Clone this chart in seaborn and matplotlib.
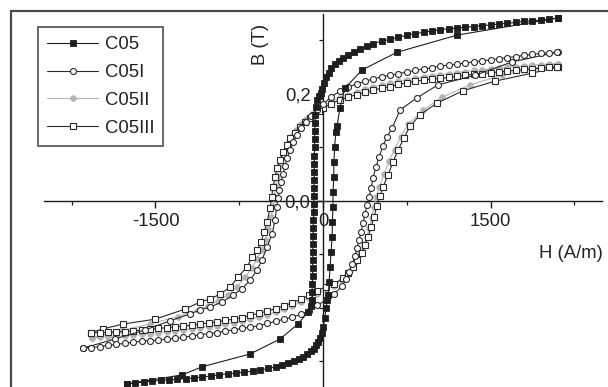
import matplotlib
matplotlib.use('Agg')
import matplotlib.pyplot as plt
import seaborn as sns
from matplotlib.patches import Rectangle

sns.set_theme(style='ticks')
plt.rcParams['font.family'] = ['Liberation Sans', 'DejaVu Sans']

# ---------------- data (H in A/m, B in T) ----------------
# C05 : descending branch (from +Hmax) and ascending branch (from -Hmax)
c05_desc_H = [2100, 2025, 1950, 1875, 1800, 1725, 1650, 1575, 1500, 1425, 1350, 1275, 1200, 1125,
              1050, 975, 900, 825, 750, 675, 600, 525, 450, 390, 330, 275, 225, 180, 140, 105, 75,
              50, 30, 12, -5, -22, -40, -54,
              -66, -70, -72, -74, -75, -76, -77, -78, -79, -80, -81, -82, -83, -84, -86, -88, -89,
              -90, -91, -92, -93, -94, -96, -98, -102, -110,
              -134, -224, -385, -653, -1083, -1262, -1754]
c05_desc_B = [0.342, 0.340, 0.338, 0.337, 0.336, 0.334, 0.332, 0.331, 0.329, 0.328, 0.326, 0.325,
              0.323, 0.322, 0.320, 0.318, 0.315, 0.313, 0.310, 0.306, 0.302, 0.299, 0.294, 0.290,
              0.284, 0.279, 0.273, 0.268, 0.262, 0.256, 0.248, 0.240, 0.231, 0.221, 0.210, 0.202,
              0.196, 0.189,
              0.175, 0.160, 0.145, 0.130, 0.115, 0.100, 0.085, 0.070, 0.055, 0.040, 0.025, 0.010,
              -0.005, -0.020, -0.035, -0.050, -0.065, -0.080, -0.095, -0.110, -0.125, -0.140,
              -0.155, -0.170, -0.185, -0.197,
              -0.207, -0.230, -0.258, -0.286, -0.310, -0.325, -0.342]
c05_asc_H = [-1754, -1680, -1605, -1530, -1455, -1380, -1305, -1230, -1155, -1080, -1005, -930,
             -855, -780, -705, -630, -560, -490, -425, -365, -310, -260, -215, -175, -140, -110,
             -85, -62, -42, -25, -10, 3, 15, 27, 38, 48,
             54, 63, 72, 81, 84, 88, 90, 95, 98, 104, 114, 125,
             152, 197, 349, 662, 1199, 2103]
c05_asc_B = [-0.342, -0.340, -0.338, -0.337, -0.335, -0.334, -0.333, -0.332, -0.331, -0.329,
             -0.327, -0.325, -0.323, -0.322, -0.320, -0.318, -0.316, -0.313, -0.310, -0.307,
             -0.303, -0.299, -0.295, -0.291, -0.286, -0.281, -0.276, -0.270, -0.264, -0.257,
             -0.247, -0.235, -0.219, -0.200, -0.186, -0.175,
             -0.151, -0.123, -0.095, -0.067, -0.039, -0.011, 0.017, 0.045, 0.073, 0.101, 0.129,
             0.140,
             0.174, 0.211, 0.245, 0.278, 0.310, 0.342]

# C05I
c05i_desc_H = [2100, 2025, 1950, 1875, 1800, 1725, 1650, 1575, 1500, 1425, 1350, 1275, 1200, 1125,
               1050, 975, 900, 825, 750, 675, 600, 525, 450, 375, 300, 225, 150, 75, 0,
               -54, -107, -152, -197, -233, -269, -295, -322, -340, -358, -376, -390, -403, -416,
               -430, -456, -501, -546, -591, -653, -725, -806, -904, -1011, -1101,
               -1190, -1369, -1593, -1862, -2148]
c05i_desc_B = [0.278, 0.277, 0.276, 0.274, 0.272, 0.270, 0.268, 0.266, 0.264, 0.262, 0.260,
               0.258, 0.256, 0.254, 0.252, 0.249, 0.247, 0.244, 0.241, 0.238, 0.235, 0.232,
               0.228, 0.224, 0.219, 0.213, 0.205, 0.195, 0.181,
               0.170, 0.159, 0.148, 0.136, 0.123, 0.110, 0.095, 0.080, 0.065, 0.050, 0.036,
               0.021, 0.006, -0.012, -0.036, -0.062, -0.086, -0.110, -0.129, -0.148, -0.164,
               -0.176, -0.189, -0.198, -0.204,
               -0.211, -0.224, -0.241, -0.258, -0.275]
c05i_asc_H = [-2148, -2075, -2000, -1925, -1850, -1775, -1700, -1625, -1550, -1475, -1400, -1325,
              -1250, -1175, -1100, -1025, -950, -875, -800, -725, -650, -575, -500, -425, -350,
              -275, -200, -125, -50, 25, 100,
              170, 206, 233, 260, 286, 304, 322, 340, 358, 376, 394, 412, 430, 448, 474, 501,
              537, 573, 618,
              689, 841, 1029, 1360, 1692, 2094]
c05i_asc_B = [-0.275, -0.274, -0.272, -0.270, -0.268, -0.266, -0.264, -0.262, -0.261, -0.260,
              -0.258, -0.257, -0.255, -0.252, -0.250, -0.248, -0.246, -0.243, -0.241, -0.238,
              -0.236, -0.233, -0.229, -0.225, -0.221, -0.217, -0.212, -0.205, -0.195, -0.185,
              -0.174,
              -0.159, -0.146, -0.133, -0.118, -0.103, -0.088, -0.073, -0.058, -0.041, -0.024,
              -0.007, 0.007, 0.024, 0.043, 0.064, 0.082, 0.103, 0.120, 0.136,
              0.170, 0.193, 0.217, 0.235, 0.260, 0.278]

# C05II
c05ii_desc_H = [2100, 2025, 1950, 1875, 1800, 1725, 1650, 1575, 1500, 1425, 1350, 1275, 1200,
                1125, 1050, 975, 900, 825, 750, 675, 600, 525, 450, 375, 300, 225, 150, 75, 0,
                -50, -100, -150, -195, -240, -280, -315, -345, -372, -395, -412, -426, -436,
                -446, -465, -490, -515, -550, -590, -640, -700, -770, -850, -940, -1030, -1120,
                -1300, -1550, -1800, -2070]
c05ii_desc_B = [0.257, 0.256, 0.255, 0.254, 0.253, 0.251, 0.250, 0.248, 0.247, 0.245, 0.244,
                0.242, 0.240, 0.238, 0.236, 0.234, 0.232, 0.230, 0.227, 0.224, 0.220, 0.217,
                0.213, 0.209, 0.204, 0.199, 0.193, 0.186, 0.178,
                0.171, 0.163, 0.153, 0.143, 0.132, 0.121, 0.108, 0.094, 0.079, 0.063, 0.046,
                0.028, 0.010, -0.009, -0.030, -0.052, -0.072, -0.092, -0.109, -0.126, -0.143,
                -0.160, -0.175, -0.187, -0.196, -0.203,
                -0.216, -0.230, -0.242, -0.256]
c05ii_asc_H = [-2070, -2000, -1925, -1850, -1775, -1700, -1625, -1550, -1475, -1400, -1325,
               -1250, -1175, -1100, -1025, -950, -875, -800, -725, -650, -575, -500, -425, -350,
               -275, -200, -125, -50, 25, 100,
               170, 215, 258, 295, 335, 365, 390, 415, 435, 455, 478, 505, 545, 590, 640, 695,
               760,
               895, 1065, 1316, 1600, 1880, 2100]
c05ii_asc_B = [-0.256, -0.255, -0.254, -0.253, -0.252, -0.251, -0.249, -0.248, -0.246, -0.245,
               -0.243, -0.241, -0.239, -0.237, -0.235, -0.233, -0.230, -0.228, -0.225, -0.221,
               -0.217, -0.213, -0.208, -0.202, -0.196, -0.189, -0.181, -0.173, -0.165, -0.158,
               -0.148, -0.138, -0.126, -0.113, -0.099, -0.084, -0.068, -0.050, -0.031, -0.011,
               0.008, 0.027, 0.050, 0.074, 0.096, 0.119, 0.143,
               0.170, 0.194, 0.217, 0.235, 0.248, 0.257]

# C05III
c05iii_desc_H = [2100, 2025, 1950, 1875, 1800, 1725, 1650, 1575, 1500, 1425, 1350, 1275, 1200,
                 1125, 1050, 975, 900, 825, 750, 675, 600, 525, 450, 375, 300, 225, 150, 75, 0,
                 -40, -80, -116, -161, -206, -251, -295, -322, -358, -385, -412, -430, -448,
                 -460, -474, -501, -528, -555, -591, -635, -680, -761, -832, -922, -1011, -1101,
                 -1235, -1504, -1790, -1969, -2075]
c05iii_desc_B = [0.251, 0.250, 0.248, 0.247, 0.246, 0.244, 0.243, 0.241, 0.240, 0.238, 0.237,
                 0.235, 0.233, 0.231, 0.229, 0.228, 0.226, 0.224, 0.221, 0.218, 0.214, 0.211,
                 0.207, 0.203, 0.199, 0.194, 0.189, 0.182, 0.174,
                 0.168, 0.161, 0.155, 0.147, 0.138, 0.127, 0.117, 0.105, 0.092, 0.077, 0.062,
                 0.045, 0.026, 0.007, -0.013, -0.039, -0.058, -0.077, -0.092, -0.105, -0.123,
                 -0.142, -0.161, -0.174, -0.183, -0.189,
                 -0.202, -0.221, -0.230, -0.239, -0.246]
c05iii_asc_H = [-2075, -2000, -1925, -1850, -1775, -1700, -1625, -1550, -1475, -1400, -1325,
                -1250, -1175, -1100, -1025, -950, -875, -800, -725, -650, -575, -500, -425,
                -350, -275, -200, -125, -50, 25, 100,
                179, 224, 269, 304, 349, 376, 403, 430, 456, 483, 510, 537, 582, 627, 671, 725,
                779,
                868, 1020, 1253, 1539, 1871, 2094]
c05iii_asc_B = [-0.246, -0.246, -0.245, -0.245, -0.244, -0.243, -0.241, -0.240, -0.238, -0.237,
                -0.235, -0.234, -0.232, -0.230, -0.228, -0.226, -0.223, -0.221, -0.218, -0.214,
                -0.210, -0.206, -0.201, -0.196, -0.190, -0.184, -0.176, -0.168, -0.160, -0.155,
                -0.144, -0.135, -0.123, -0.110, -0.097, -0.082, -0.067, -0.049, -0.030, -0.009,
                0.009, 0.026, 0.049, 0.073, 0.095, 0.118, 0.140,
                0.161, 0.183, 0.206, 0.224, 0.239, 0.250]

series_labels = ['C05', 'C05I', 'C05II', 'C05III']
x_tick_vals = [-1500, 0, 1500]
x_tick_labels = ['-1500', '0', '1500']
y_tick_vals = [0.0, 0.2]
y_tick_labels = ['0,0', '0,2']

# ---------------- drawing ----------------
fig = plt.figure(figsize=(6.08, 3.87), dpi=100)
fig.patch.set_facecolor('white')
ax = fig.add_axes([0, 0, 1, 1])
ax.set_facecolor('none')

FS = 13.3
dark = '#1e1e1e'
gray = '#b4b4b4'
styles = {
    'C05':    dict(color=dark, marker='s', markersize=3.8, markerfacecolor=dark,
                   markeredgecolor=dark, markeredgewidth=0.6),
    'C05I':   dict(color='#2a2a2a', marker='o', markersize=4.3, markerfacecolor='white',
                   markeredgecolor='#2a2a2a', markeredgewidth=0.8),
    'C05II':  dict(color=gray, marker='o', markersize=4.0, markerfacecolor=gray,
                   markeredgecolor=gray, markeredgewidth=0.6),
    'C05III': dict(color='#2a2a2a', marker='s', markersize=4.1, markerfacecolor='white',
                   markeredgecolor='#2a2a2a', markeredgewidth=0.8),
}
data = {
    'C05': (c05_desc_H + c05_asc_H, c05_desc_B + c05_asc_B),
    'C05I': (c05i_desc_H + c05i_asc_H, c05i_desc_B + c05i_asc_B),
    'C05II': (c05ii_desc_H + c05ii_asc_H, c05ii_desc_B + c05ii_asc_B),
    'C05III': (c05iii_desc_H + c05iii_asc_H, c05iii_desc_B + c05iii_asc_B),
}
for lab in ['C05II', 'C05III', 'C05I', 'C05']:
    H, B = data[lab]
    sns.lineplot(x=H, y=B, sort=False, estimator=None, ax=ax, label=lab,
                 linewidth=0.8, legend=False, **styles[lab])

ax.set_xlim(-2892, 2551)
ax.set_ylim(-0.3477, 0.3757)

for s in ['top', 'right']:
    ax.spines[s].set_visible(False)
ax.spines['left'].set_position(('data', 0))
ax.spines['bottom'].set_position(('data', 0))
ax.spines['bottom'].set_bounds(-2500, 2500)
ax.spines['left'].set_bounds(-0.35, 0.35)
for s in ['left', 'bottom']:
    ax.spines[s].set_color('#1a1a1a')
    ax.spines[s].set_linewidth(1.0)
    ax.spines[s].set_zorder(1)

ax.set_xticks(x_tick_vals)
ax.set_xticklabels(x_tick_labels)
ax.set_xticks([-2250, -750, 750, 2250], minor=True)
ax.set_yticks(y_tick_vals)
ax.set_yticklabels(y_tick_labels)
ax.set_yticks([-0.3, -0.2, -0.1, 0.1, 0.3], minor=True)
ax.tick_params(axis='both', which='major', direction='out', length=5, width=1,
               color='#1a1a1a', labelcolor='#222222', labelsize=FS)
ax.tick_params(axis='both', which='minor', direction='out', length=3, width=0.9,
               color='#1a1a1a')
ax.tick_params(axis='x', which='major', pad=4)
ax.tick_params(axis='y', which='major', pad=4)
ax.set_xlabel('')
ax.set_ylabel('')

ax.text(-564, 0.293, 'B (T)', rotation=90, ha='center', va='center',
        fontsize=FS, color='#222222')
ax.text(2220, -0.099, 'H (A/m)', ha='center', va='center',
        fontsize=FS, color='#222222')

handles, labels = ax.get_legend_handles_labels()
hmap = dict(zip(labels, handles))
leg = ax.legend([hmap[l] for l in series_labels], series_labels,
                loc='upper left', bbox_to_anchor=(38 / 608, 1 - 27 / 387),
                bbox_transform=fig.transFigure, borderaxespad=0, frameon=True,
                fancybox=False, edgecolor='#333333', fontsize=FS, handlelength=2.75,
                handletextpad=0.35, labelspacing=0.585, borderpad=0.5, numpoints=1)
leg.get_frame().set_linewidth(1.3)
for t in leg.get_texts():
    t.set_color('#222222')

fig.add_artist(Rectangle((11 / 608, -0.2), 1.2, 1.2 - 11 / 387, transform=fig.transFigure,
                         fill=False, edgecolor='#4a4a4a', linewidth=1.6))

fig.savefig('out.png', dpi=100)
